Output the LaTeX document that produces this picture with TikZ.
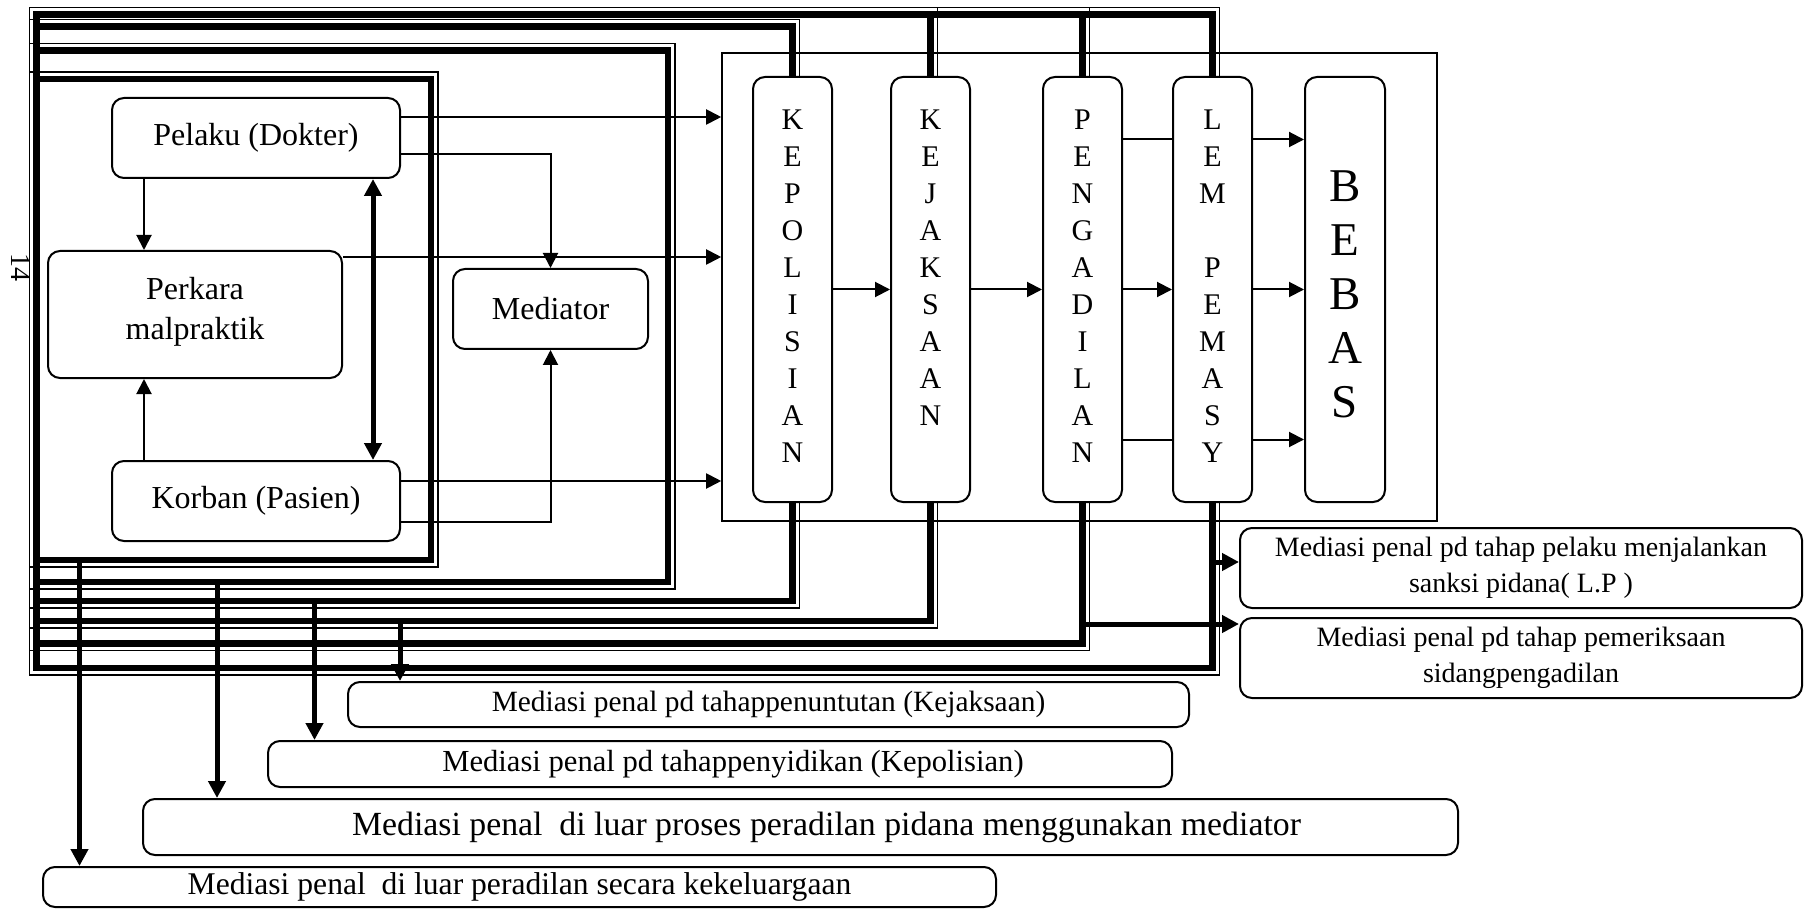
\documentclass[tikz,border=0pt]{standalone}
\usepackage{fontspec}
\setmainfont{Liberation Serif}
\usetikzlibrary{arrows.meta,positioning}

\begin{document}
\begin{tikzpicture}[x=0.5pt,y=-0.5pt,
  box/.style={draw,line width=1pt,rounded corners=6pt,fill=white,align=center,inner sep=0pt},
  actor/.style={box,font=\fontsize{16}{20}\selectfont},
  colbox/.style={box,minimum width=39.5pt,minimum height=212.5pt},
  letters/.style={align=center,inner sep=0pt,font=\fontsize{15}{18.5}\selectfont},
  mediasi/.style={box,font=\fontsize{15}{18}\selectfont},
  heavy/.style={line width=3.2pt},
  light/.style={line width=0.8pt},
  arr/.style={line width=1pt,-{Triangle[length=7.5pt,width=7.5pt]}},
  bigarr/.style={line width=2.5pt,-{Triangle[length=8.5pt,width=8.5pt]}},
]
  \useasboundingbox (0,0) rectangle (1805,909);

  % pihak yang berperkara
  \node[actor,minimum width=144pt,minimum height=40pt] (pelaku) at (256,138) {Pelaku (Dokter)};
  \node[actor,minimum width=147pt,minimum height=63.5pt] (perkara) at (195,314.5) {Perkara\\malpraktik\\[-14pt]};
  \node[actor,minimum width=144pt,minimum height=40pt] (korban) at (256,501) {Korban (Pasien)};
  \node[actor,minimum width=97.5pt,minimum height=40pt] (mediator) at (550.5,309) {Mediator};
  \node[rotate=-90,inner sep=0pt,font=\fontsize{14}{14}\selectfont] (hal) at (20.5,268) {14};

  % sistem peradilan pidana
  \node[draw,line width=0.8pt,minimum width=357.5pt,minimum height=234pt] (spp) at (1079.5,287) {};
  \node[colbox] (kepol) at (792.5,289.5) {};
  \node[colbox] (kejak) at (930.5,289.5) {};
  \node[colbox] (penga) at (1082.5,289.5) {};
  \node[colbox] (lem) at (1212.5,289.5) {};
  \node[colbox,minimum width=40pt] (bebas) at (1345,289.5) {};
  \node[letters,below=16.5pt of kepol.north] (kepoltxt) {K\\E\\P\\O\\L\\I\\S\\I\\A\\N};
  \node[letters,below=16.5pt of kejak.north] (kejaktxt) {K\\E\\J\\A\\K\\S\\A\\A\\N};
  \node[letters,below=16.5pt of penga.north] (pengatxt) {P\\E\\N\\G\\A\\D\\I\\L\\A\\N};
  \node[letters,below=16.5pt of lem.north] (lemtxt) {L\\E\\M\\ \\P\\E\\M\\A\\S\\Y};
  \node[letters,font=\fontsize{23.5}{27}\selectfont,below=47pt of bebas.north] (bebastxt) {B\\E\\B\\A\\S};

  % bentuk mediasi penal
  \node[mediasi,font=\fontsize{14}{18}\selectfont,minimum width=281pt,minimum height=40pt] (lp) at (1521,568) {Mediasi penal pd tahap pelaku menjalankan\\sanksi pidana( L.P )};
  \node[mediasi,font=\fontsize{14}{18}\selectfont,minimum width=281pt,minimum height=40pt] (sidang) at (1521,658) {Mediasi penal pd tahap pemeriksaan\\sidangpengadilan};
  \node[mediasi,font=\fontsize{14.7}{18}\selectfont,minimum width=420.5pt,minimum height=22.5pt] (tuntut) at (768.5,704.5) {Mediasi penal pd tahappenuntutan (Kejaksaan)};
  \node[mediasi,font=\fontsize{15.3}{18}\selectfont,minimum width=452pt,minimum height=23pt] (sidik) at (720,764) {\hspace*{13pt}Mediasi penal pd tahappenyidikan (Kepolisian)};
  \node[mediasi,font=\fontsize{16.9}{18}\selectfont,minimum width=657.5pt,minimum height=28pt] (luarproses) at (800.5,827) {\hspace*{26pt}Mediasi penal\ \ di luar proses peradilan pidana menggunakan mediator};
  \node[mediasi,font=\fontsize{15.8}{18}\selectfont,minimum width=476.5pt,minimum height=20pt] (keluarga) at (519.5,887) {Mediasi penal\ \ di luar peradilan secara kekeluargaan};

  % bingkai
  \draw[heavy] (36.5,79) rectangle (431,560);
  \draw[light] (29.5,72) rectangle (438,567);
  \draw[heavy] (36.5,50.5) rectangle (668,582);
  \draw[light] (29.5,43.5) rectangle (675,589);
  \foreach \n/\t/\b in {kepol/26.5/601,kejak/14.5/621,penga/14.5/643.5,lem/14.5/668}{
    \draw[heavy] (\n.north) |- (36.5,\t) -- (36.5,\b) -| (\n.south);
    \draw[light] ([xshift=3.5pt]\n.north) |- (29.5,\t-7) -- (29.5,\b+7) -| ([xshift=3.5pt]\n.south);
  }

  % hubungan para pihak
  \draw[arr] (pelaku.south -| 144,0) -- (perkara.north -| 144,0);
  \draw[arr] (korban.north -| 144,0) -- (perkara.south -| 144,0);
  \draw[line width=2.5pt,{Triangle[length=8.5pt,width=8.5pt]}-{Triangle[length=8.5pt,width=8.5pt]}]
    (pelaku.south -| 373,0) -- (korban.north -| 373,0);
  \draw[arr] ([yshift=-8pt]pelaku.east) -| (mediator.north);
  \draw[arr] ([yshift=-10.5pt]korban.east) -| (mediator.south);
  \draw[arr] ([yshift=10.5pt]pelaku.east) -- ([yshift=10.5pt]pelaku.east -| spp.west);
  \draw[arr] ([yshift=28.75pt]perkara.east) -- ([yshift=28.75pt]perkara.east -| spp.west);
  \draw[arr] ([yshift=10pt]korban.east) -- ([yshift=10pt]korban.east -| spp.west);

  % alur peradilan
  \draw[arr] (kepol.east) -- (kejak.west);
  \draw[arr] (kejak.east) -- (penga.west);
  \draw[arr] (penga.east) -- (lem.west);
  \draw[line width=1pt] ([yshift=75pt]penga.east) -- ([yshift=75pt]lem.west);
  \draw[line width=1pt] ([yshift=-75pt]penga.east) -- ([yshift=-75pt]lem.west);
  \draw[arr] ([yshift=75pt]lem.east) -- ([yshift=75pt]bebas.west);
  \draw[arr] (lem.east) -- (bebas.west);
  \draw[arr] ([yshift=-75pt]lem.east) -- ([yshift=-75pt]bebas.west);

  % keluar ke mediasi penal
  \coordinate (o1) at (79.5,560);
  \coordinate (o2) at (217,582);
  \coordinate (o3) at (314.5,601);
  \coordinate (o4) at (400,621);
  \coordinate (o5) at (1212.5,562);
  \coordinate (o6) at (1082.5,624);
  \draw[bigarr] (o1) -- (o1 |- keluarga.north);
  \draw[bigarr] (o2) -- (o2 |- luarproses.north);
  \draw[bigarr] (o3) -- (o3 |- sidik.north);
  \draw[bigarr] (o4) -- (o4 |- tuntut.north);
  \draw[bigarr] (o5) -- (o5 -| lp.west);
  \draw[bigarr] (o6) -- (o6 -| sidang.west);
\end{tikzpicture}
\end{document}
